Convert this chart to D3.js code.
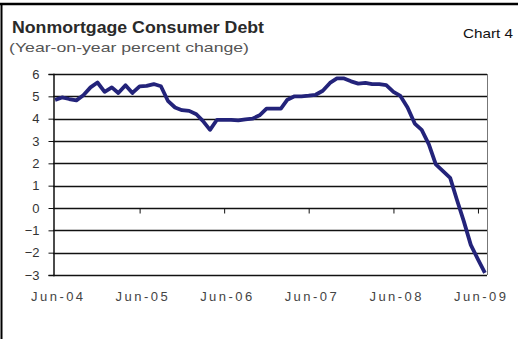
<!DOCTYPE html>
<html>
<head>
<meta charset="utf-8">
<script src="https://cdn.jsdelivr.net/npm/d3@7"></script>
<style>
  body { margin: 0; background: #fff; }
  text { font-family: Arial, "Liberation Sans", sans-serif; }
</style>
</head>
<body>
<svg id="chart" width="518" height="339"></svg>
<script>
let width = 518,
    height = 339;

// year-on-year % change, monthly from Jun-04 to Jul-09
let startMonth = new Date(2004, 5, 1);
let debtChange = [
  4.84, 4.95, 4.88, 4.82, 5.05, 5.40, 5.62, 5.20, 5.40, 5.15,
  5.50, 5.15, 5.45, 5.47, 5.55, 5.45, 4.80, 4.50, 4.38, 4.35,
  4.20, 3.90, 3.50, 3.95, 3.95, 3.95, 3.92, 3.97, 4.00, 4.15,
  4.45, 4.45, 4.45, 4.85, 5.00, 5.00, 5.03, 5.07, 5.25, 5.60,
  5.80, 5.80, 5.67, 5.57, 5.60, 5.55, 5.55, 5.50, 5.20, 5.02,
  4.50, 3.78, 3.50, 2.85, 1.95, 1.65, 1.35, 0.40, -0.60, -1.65,
  -2.30, -2.90
];
let yTicks = [6, 5, 4, 3, 2, 1, 0, -1, -2, -3];
let xTickLabels = ["Jun-04", "Jun-05", "Jun-06", "Jun-07", "Jun-08", "Jun-09"];

let data = debtChange.map(function (v, i) {
    return {date: d3.timeMonth.offset(startMonth, i), value: v};
});

let svg = d3.select("#chart");

// frame
svg.append("line").attr("x1", 0).attr("x2", width).attr("y1", 4).attr("y2", 4)
    .attr("stroke", "#000").attr("stroke-width", 2.5);
svg.append("line").attr("x1", 1.5).attr("x2", 1.5).attr("y1", 3).attr("y2", height)
    .attr("stroke", "#000").attr("stroke-width", 2);

// titles (the original is a bit stretched sideways)
svg.append("text").attr("x", 12).attr("y", 33)
    .attr("font-size", 16.5).attr("font-weight", "bold").attr("fill", "#2a2a2a")
    .attr("textLength", 252).attr("lengthAdjust", "spacingAndGlyphs")
    .text("Nonmortgage Consumer Debt");
svg.append("text").attr("x", 9).attr("y", 52)
    .attr("font-size", 13.5).attr("fill", "#555")
    .attr("textLength", 240).attr("lengthAdjust", "spacingAndGlyphs")
    .text("(Year-on-year percent change)");
svg.append("text").attr("x", 463).attr("y", 38)
    .attr("font-size", 13).attr("fill", "#111")
    .attr("textLength", 50).attr("lengthAdjust", "spacingAndGlyphs")
    .text("Chart 4");

let plotLeft = 53, plotRight = 487, plotTop = 74, plotBottom = 275;

let x = d3.scaleTime()
    .domain([d3.timeDay.offset(startMonth, -9), d3.timeDay.offset(d3.timeMonth.offset(startMonth, 61), 9)])
    .range([plotLeft, plotRight]);

let y = d3.scaleLinear()
    .domain([-3, 6])
    .range([plotBottom, plotTop]);

// gridlines
svg.append("g")
    .selectAll("line")
    .data(yTicks)
    .enter().append("line")
    .attr("x1", plotLeft).attr("x2", plotRight)
    .attr("y1", d => Math.round(y(d)) + 0.5).attr("y2", d => Math.round(y(d)) + 0.5)
    .attr("stroke", "#111").attr("stroke-width", 1.3);

// right border
svg.append("line")
    .attr("x1", plotRight + 0.5).attr("x2", plotRight + 0.5)
    .attr("y1", plotTop).attr("y2", plotBottom)
    .attr("stroke", "#777").attr("stroke-width", 1);

// y axis
let yAxis = svg.append("g")
    .attr("transform", "translate(" + (plotLeft + 0.5) + ",0)")
    .call(d3.axisLeft(y).tickValues(yTicks).tickSize(5).tickPadding(9).tickFormat(d3.format("d")));
yAxis.select(".domain").attr("stroke", "#111").attr("stroke-width", 1.5);
yAxis.selectAll(".tick line").attr("stroke", "#111");
yAxis.selectAll(".tick text")
    .attr("font-family", "Arial, 'Liberation Sans', sans-serif")
    .attr("font-size", 13).attr("fill", "#333");

// x ticks on the zero line
let yearTicks = xTickLabels.map(function (d, i) { return d3.timeYear.offset(startMonth, i); });
svg.append("g")
    .attr("transform", "translate(0," + (Math.round(y(0)) + 0.5) + ")")
    .call(d3.axisBottom(x).tickValues(yearTicks.slice(1)).tickSize(5).tickFormat(""))
    .call(g => g.select(".domain").remove())
    .selectAll(".tick line").attr("stroke", "#111");

// x labels below the plot
svg.append("g")
    .selectAll("text")
    .data(yearTicks)
    .enter().append("text")
    .attr("x", (d, i) => x(d) - 24)
    .attr("y", 301)
    .attr("font-size", 13).attr("fill", "#444")
    .attr("textLength", 52).attr("lengthAdjust", "spacing")
    .text((d, i) => xTickLabels[i]);

// line
let line = d3.line()
    .x(d => x(d.date))
    .y(d => y(d.value));

svg.append("path")
    .datum(data)
    .attr("fill", "none")
    .attr("stroke", "#23237a")
    .attr("stroke-width", 3.8)
    .attr("stroke-linejoin", "round")
    .attr("d", line);
</script>
</body>
</html>
